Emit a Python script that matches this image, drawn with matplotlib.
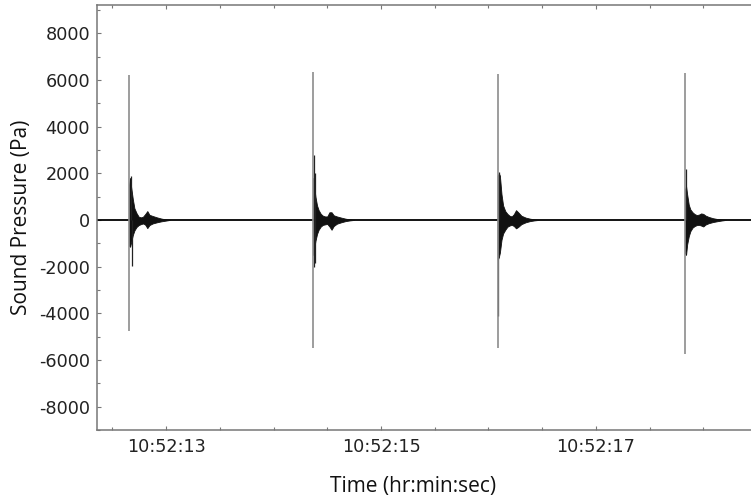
import matplotlib
matplotlib.use("Agg")
import matplotlib.pyplot as plt
from matplotlib.ticker import MultipleLocator, FixedLocator

matplotlib.rcParams["axes.unicode_minus"] = False

# 4 impulses (seconds after 10:52:00)
SPIKE_T = [12.656, 14.370, 16.086, 17.828]
SPIKE_HI = [6190, 6340, 6260, 6310]
SPIKE_LO = [-4740, -5490, -5490, -5740]

# decaying burst envelope after each impulse, offsets in s
OFFS = [0.0, 0.01, 0.02, 0.035, 0.05, 0.07, 0.09, 0.11, 0.13, 0.15, 0.17, 0.19, 0.22, 0.26, 0.30, 0.34, 0.38]
UPPER = [
    [1500, 1800, 1400, 900, 500, 290, 140, 110, 140, 250, 380, 220, 170, 110, 60, 25, 0],
    [1800, 1400, 1000, 620, 420, 260, 180, 150, 150, 330, 330, 200, 150, 100, 55, 25, 0],
    [1900, 2000, 1900, 1100, 620, 380, 260, 180, 150, 250, 420, 330, 180, 100, 55, 25, 0],
    [1300, 1450, 1100, 650, 450, 330, 250, 210, 230, 280, 260, 190, 130, 75, 40, 20, 0],
]
LOWER = [
    [-1100, -1150, -950, -650, -450, -300, -220, -180, -150, -200, -350, -220, -150, -100, -60, -30, 0],
    [-1500, -1200, -900, -600, -420, -280, -210, -190, -170, -280, -420, -260, -160, -100, -50, -20, 0],
    [-1700, -1600, -1400, -850, -580, -420, -290, -240, -210, -260, -360, -300, -180, -100, -50, -20, 0],
    [-1400, -1500, -1050, -700, -480, -330, -260, -220, -210, -240, -280, -200, -140, -90, -55, -25, 0],
]
# narrow dark peaks inside the bursts: (burst, offset s, low, high)
PEAK_BURST = [0, 0, 1, 1, 2, 2, 3]
PEAK_OFF = [0.017, 0.028, 0.006, 0.016, 0.003, 0.0155, 0.009]
PEAK_LO = [0, -1970, -2000, -1850, -4130, 0, 0]
PEAK_HI = [1900, 0, 2800, 2000, 0, 2060, 2200]

XTICK_SECS = [13, 15, 17]
XTICK_LABELS = ["10:52:13", "10:52:15", "10:52:17"]

fig = plt.figure(figsize=(7.51, 4.99), dpi=100)
ax = fig.add_axes([97 / 751, 69 / 499, 654 / 751, 425 / 499])

ax.axhline(0, color="black", linewidth=1.3, zorder=2)
for i, t0 in enumerate(SPIKE_T):
    ts = [t0 + o for o in OFFS]
    ax.fill_between(ts, LOWER[i], UPPER[i], color="#111111", linewidth=0.6, zorder=3)
    ax.vlines(t0, SPIKE_LO[i], SPIKE_HI[i], color="#8c8c8c", linewidth=1.2, zorder=4)
for b, o, lo, hi in zip(PEAK_BURST, PEAK_OFF, PEAK_LO, PEAK_HI):
    ax.vlines(SPIKE_T[b] + o, lo, hi, color="#222222", linewidth=0.9, zorder=3)

ax.set_xlim(12.358, 18.442)
ax.set_ylim(-9000, 9210)

ax.yaxis.set_major_locator(MultipleLocator(2000))
ax.yaxis.set_minor_locator(MultipleLocator(1000))
ax.xaxis.set_major_locator(FixedLocator(XTICK_SECS))
ax.set_xticklabels(XTICK_LABELS)
ax.xaxis.set_minor_locator(MultipleLocator(0.5))

ax.tick_params(which="both", direction="in", top=True, right=False, colors="#777777",
               labelcolor="#222222", labelsize=12.7, width=0.8)
ax.tick_params(which="major", length=3)
ax.tick_params(which="minor", length=2)
ax.tick_params(axis="y", pad=5)
ax.tick_params(axis="x", pad=6)
for lab in ax.get_xticklabels() + ax.get_yticklabels():
    lab.set_family("DejaVu Sans")

for s in ("left", "bottom", "top"):
    ax.spines[s].set_color("#777777")
    ax.spines[s].set_linewidth(1.1)
ax.spines["right"].set_visible(False)

ax.set_ylabel("Sound Pressure (Pa)", fontsize=15, family="Open Sans", color="#111111", labelpad=5)
ax.set_xlabel("Time (hr:min:sec)", fontsize=15, family="Open Sans", color="#111111")
ax.xaxis.set_label_coords(0.483, -0.108)

fig.savefig("out.png", dpi=100, facecolor="white")
